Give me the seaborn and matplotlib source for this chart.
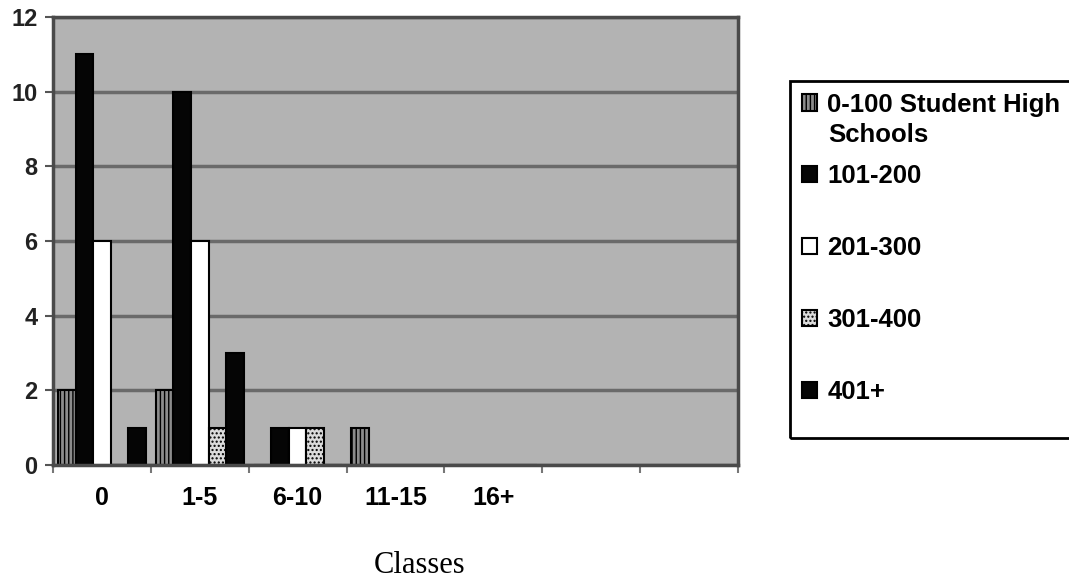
import numpy as np
import pandas as pd
import matplotlib
matplotlib.use("Agg")
import matplotlib.pyplot as plt
from matplotlib.patches import Rectangle
import seaborn as sns

# ---- data ----
categories = ["0", "1-5", "6-10", "11-15", "16+"]
series_names = ["0-100 Student High Schools", "101-200", "201-300", "301-400", "401+"]
vals_0_100 = [2, 2, 0, 1, 0]
vals_101_200 = [11, 10, 1, 0, 0]
vals_201_300 = [6, 6, 1, 0, 0]
vals_301_400 = [0, 1, 1, 0, 0]
vals_401_plus = [1, 3, 0, 0, 0]
y_ticks = [0, 2, 4, 6, 8, 10, 12]
n_slots = 7  # category slots on the axis (two trailing empty)

all_vals = [vals_0_100, vals_101_200, vals_201_300, vals_301_400, vals_401_plus]
rows = []
for name, vals in zip(series_names, all_vals):
    for c, v in zip(categories, vals):
        rows.append({"Classes": c, "Series": name, "Count": v})
df = pd.DataFrame(rows)

face_colors = ["#8c8c8c", "#050505", "#ffffff", "#dcdcdc", "#050505"]
hatches = ["||||", None, None, "....", None]

fig = plt.figure(figsize=(10.69, 5.81), dpi=100)
ax = fig.add_axes([53/1069, 1-465/581, (738-53)/1069, (465-17)/581])

sns.barplot(data=df, x="Classes", y="Count", hue="Series", order=categories,
            hue_order=series_names, palette=face_colors, width=0.9,
            edgecolor="black", linewidth=1.5, saturation=1, legend=False, ax=ax,
            zorder=3)

for cont, h in zip(ax.containers, hatches):
    for p in cont.patches:
        if h:
            p.set_hatch(h)
        p.set_zorder(3)

ax.set_facecolor("#b3b3b3")
ax.set_xlim(-0.5, n_slots - 0.5)
ax.set_ylim(0, 12)
ax.set_yticks(y_ticks)
ax.set_yticklabels([str(t) for t in y_ticks])
ax.grid(axis="y", color="#6a6a6a", linewidth=2.5, zorder=1)
ax.grid(axis="x", visible=False)
ax.set_axisbelow(True)

# x ticks: marks at slot boundaries, labels at slot centres
ax.set_xticks(np.arange(-0.5, n_slots, 1.0))
ax.set_xticklabels([""] * (n_slots + 1))
ax.set_xticks(np.arange(len(categories)), minor=True)
ax.set_xticklabels(categories, minor=True)
ax.tick_params(axis="x", which="major", length=6, width=1.5, color="#777777")
ax.tick_params(axis="x", which="minor", length=0, pad=15)
ax.tick_params(axis="y", length=6, width=1.5, color="#555555", pad=5)

for lab in ax.get_xticklabels(minor=True):
    lab.set_fontfamily("Liberation Sans")
    lab.set_fontweight("bold")
    lab.set_fontsize(18)
for lab in ax.get_yticklabels():
    lab.set_fontfamily("Liberation Sans")
    lab.set_fontweight("bold")
    lab.set_fontsize(17)
    lab.set_color("#222222")

for s in ax.spines.values():
    s.set_color("#4a4a4a")
    s.set_linewidth(2.5)
    s.set_zorder(4)

ax.set_ylabel("")
ax.set_xlabel("Classes", fontfamily="Liberation Serif", fontsize=22)
ax.xaxis.set_label_coords((420-53)/685, -0.192)

leg_labels = ["0-100 Student High", "101-200", "201-300", "301-400", "401+"]
leg = fig.legend(handles=list(ax.containers), labels=leg_labels,
                 loc="upper left", bbox_to_anchor=(790/1069, 1-81/581),
                 bbox_transform=fig.transFigure, borderaxespad=0,
                 prop={"family": "Liberation Sans", "weight": "bold", "size": 18.5},
                 handlelength=0.6, handleheight=0.6, handletextpad=0.4,
                 labelspacing=1.86, borderpad=0.45, fancybox=False,
                 frameon=False)
# legend box outline (extends past the right edge as in the reference)
fig.patches.append(Rectangle((790/1069, 1-438/581), 300/1069, (438-81)/581,
                             transform=fig.transFigure, fill=False,
                             edgecolor="black", linewidth=2, zorder=6))
fig.text(828/1069, 1-135/581, "Schools", fontfamily="Liberation Sans",
         fontweight="bold", fontsize=18.5, va="center", ha="left", zorder=10)

fig.savefig("out.png", dpi=100)
